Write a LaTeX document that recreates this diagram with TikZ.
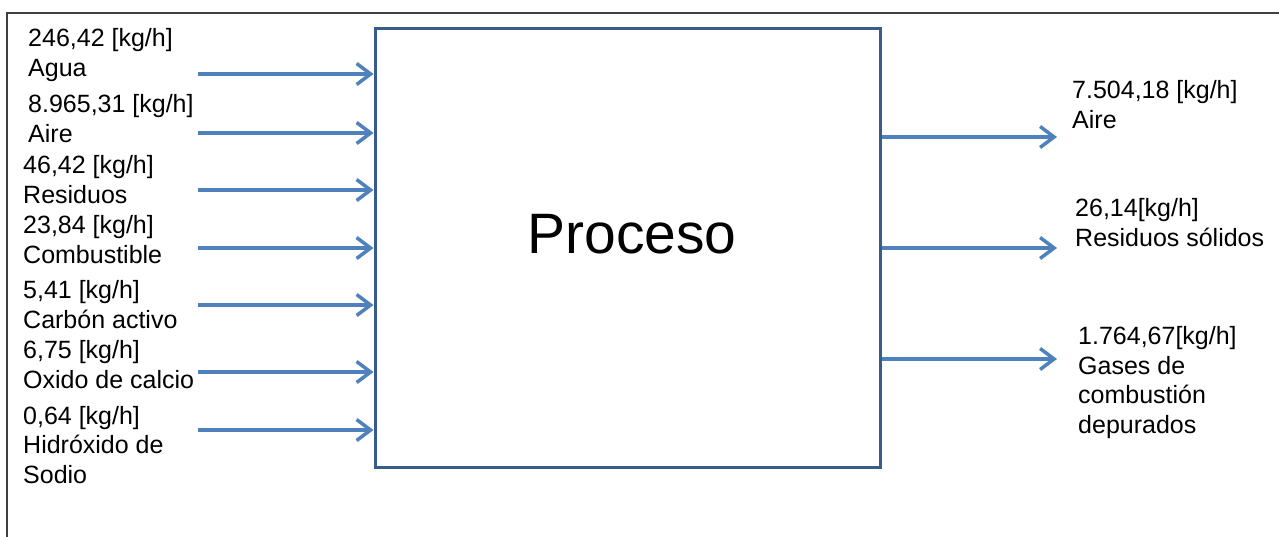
\documentclass[tikz,border=0pt]{standalone}
\usepackage{fontspec}
\setmainfont{Liberation Sans}
\usetikzlibrary{arrows.meta}
\definecolor{arrowblue}{RGB}{79,129,189}
\definecolor{boxblue}{RGB}{56,93,138}
\definecolor{framegray}{RGB}{64,64,64}
\begin{document}
\begin{tikzpicture}[x=1pt,y=-1pt,
  lbl/.style={anchor=base west,inner sep=0pt,align=left,font=\fontsize{25}{29.5}\selectfont},
  flow/.style={draw=arrowblue,line width=3.5pt,-{Straight Barb[length=14pt,width=21pt,line width=3.5pt]}},
  procbox/.style={draw=boxblue,line width=3pt,fill=white},
  frame/.style={draw=framegray,line width=2pt}]
\useasboundingbox (0,0) rectangle (1279,536);
\fill[white] (0,0) rectangle (1279,536);
% outer frame
\coordinate (fbl) at (7,540);
\coordinate (ftl) at (7,13);
\coordinate (ftr) at (1283,13);
\draw[frame] (fbl) -- (ftl) -- (ftr);
% process box
\node[procbox,minimum width=505pt,minimum height=439pt,inner sep=0pt] (box) at (627.5,247.5) {};
\node[anchor=base,inner sep=0pt,font=\fontsize{57}{68}\selectfont] (proc) at (632,253) {Proceso};
% input labels (anchored at the baseline of their last line)
\node[lbl] (l1) at (28,76) {246,42 [kg/h]\\Agua};
\node[lbl] (l2) at (28,142) {8.965,31 [kg/h]\\Aire};
\node[lbl] (l3) at (23,203) {46,42 [kg/h]\\Residuos};
\node[lbl] (l4) at (23,263) {23,84 [kg/h]\\Combustible};
\node[lbl] (l5) at (23,328) {5,41 [kg/h]\\Carbón activo};
\node[lbl] (l6) at (23,388) {6,75 [kg/h]\\Oxido de calcio};
\node[lbl] (l7) at (23,483) {0,64 [kg/h]\\Hidróxido de\\Sodio};
% output labels
\node[lbl] (r1) at (1072,128) {7.504,18 [kg/h]\\Aire};
\node[lbl] (r2) at (1075,246) {26,14[kg/h]\\Residuos sólidos};
\node[lbl] (r3) at (1078,433) {1.764,67[kg/h]\\Gases de\\combustión\\depurados};
% input arrows
\foreach \n/\y in {a/74,b/133,c/190,d/248,e/305,f/372,g/430}{
  \coordinate (in\n) at (198,\y);
  \draw[flow] (in\n) -- (in\n -| box.west);
}
% output arrows
\foreach \n/\y in {a/137,b/248,c/359}{
  \coordinate (out\n) at (1057,\y);
  \draw[flow] (out\n -| box.east) -- (out\n);
}
\end{tikzpicture}
\end{document}
